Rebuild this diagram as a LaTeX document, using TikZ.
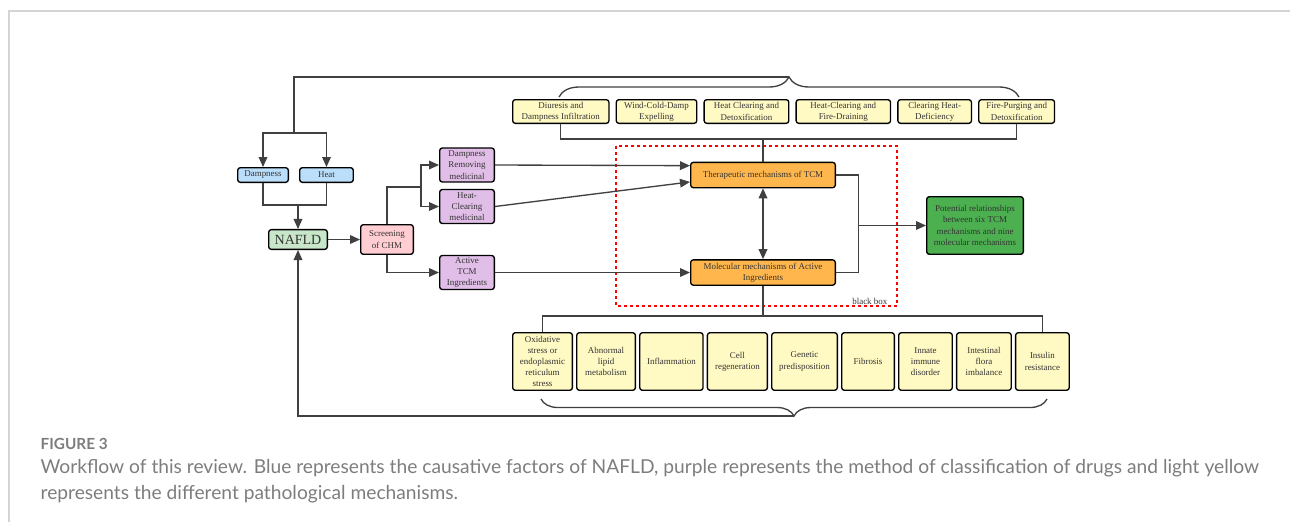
\documentclass[tikz,border=0pt]{standalone}
\usepackage{fontspec}
\setmainfont{Liberation Serif}
\newfontfamily\capfont{Lato}
\usetikzlibrary{calc,positioning,arrows.meta,decorations.pathreplacing}

\definecolor{linegrey}{HTML}{404040}
\definecolor{textgrey}{HTML}{333333}
\definecolor{framegrey}{HTML}{D4D4D4}
\definecolor{capgrey}{HTML}{7D7D7D}
\definecolor{causeblue}{HTML}{BBDEFB}
\definecolor{naflgreen}{HTML}{C8E6C9}
\definecolor{chmpink}{HTML}{FFCDD2}
\definecolor{drugpurple}{HTML}{E1BEE7}
\definecolor{mechyellow}{HTML}{FFF9C4}
\definecolor{tcmorange}{HTML}{FFB74D}
\definecolor{potgreen}{HTML}{4CAF50}

\tikzset{
  box/.style={draw=black, line width=1pt, rounded corners=2pt, inner sep=0.6pt, align=center,
    text=textgrey, font=\fontsize{6.7}{8.4}\selectfont},
  cause/.style={box, fill=causeblue, minimum height=11pt},
  nafld/.style={box, fill=naflgreen, minimum width=44pt, minimum height=14.8pt, font=\fontsize{10.5}{12}\selectfont},
  screen/.style={box, fill=chmpink, minimum width=39.5pt, minimum height=22.2pt},
  drug/.style={box, fill=drugpurple, minimum width=41pt, minimum height=25.5pt},
  tcm/.style={box, fill=tcmorange, minimum width=108.5pt, minimum height=19pt},
  pot/.style={box, fill=potgreen, minimum width=72.5pt, minimum height=43.2pt},
  mech/.style={box, fill=mechyellow, minimum height=17.75pt},
  patho/.style={box, fill=mechyellow, minimum height=43.2pt},
  curly/.style={decorate, decoration={brace, amplitude=#1}},
  blackbox/.style={draw=red, line width=2.2pt, dash pattern=on 2.2pt off 2.3pt},
  frame/.style={draw=framegrey, line width=1.1pt},
  caption/.style={anchor=base west, inner sep=0pt, text=capgrey, font=\capfont\fontsize{14.4}{16}\selectfont}
}

\begin{document}
\begin{tikzpicture}[x=0.75pt,y=-0.75pt,color=linegrey,line width=1pt,>={Triangle[length=7.5pt,width=6.5pt]}]
\useasboundingbox (0,0) rectangle (1290,522);

%Cadre
\draw[frame] (1290,11) -- (9,11) -- (9,522);

%Causes et NAFLD
\node[cause, minimum width=38pt] (damp) at (263,175) {Dampness};
\node[cause, minimum width=40.2pt] (heat) at (326.5,175) {Heat};
\node[nafld] (nafld) at (298,239.5) {NAFLD};
\node[screen] (chm) at (387,239.5) {Screening\\of CHM};

%Medicinaux
\node[drug] (drm) at (467,165) {Dampness\\Removing\\medicinal};
\node[drug] (hcm) at (467,206.5) {Heat-\\Clearing\\medicinal};
\node[drug] (atcm) at (467,272.5) {Active\\TCM\\Ingredients};

%Mecanismes
\node[tcm] (ther) at (763,175) {Therapeutic mechanisms of TCM};
\node[tcm] (mol) at (763,272.5) {Molecular mechanisms of Active\\Ingredients};
\node[pot] (pot) at (975,225.5) {Potential relationships\\between six TCM\\mechanisms and nine\\molecular mechanisms};

%Ligne du haut
\node[mech, minimum width=72.2pt, anchor=west] (t1) at (512,111.5) {Diuresis and\\Dampness Infiltration};
\node[mech, minimum width=60.4pt, right=4.5pt of t1] (t2) {Wind-Cold-Damp\\Expelling};
\node[mech, minimum width=63.5pt, right=4.5pt of t2] (t3) {Heat Clearing and\\Detoxification};
\node[mech, minimum width=70.8pt, right=4.5pt of t3] (t4) {Heat-Clearing and\\Fire-Draining};
\node[mech, minimum width=55.2pt, right=4.5pt of t4] (t5) {Clearing Heat-\\Deficiency};
\node[mech, minimum width=56.8pt, right=4.5pt of t5] (t6) {Fire-Purging and\\Detoxification};

%Ligne du bas
\node[patho, minimum width=44.8pt, anchor=west] (b1) at (512,361.5) {Oxidative\\stress or\\endoplasmic\\reticulum\\stress};
\node[patho, minimum width=44pt, right=2.25pt of b1] (b2) {Abnormal\\lipid\\metabolism};
\node[patho, minimum width=47.5pt, right=2.25pt of b2] (b3) {Inflammation};
\node[patho, minimum width=45pt, right=2.25pt of b3] (b4) {Cell\\regeneration};
\node[patho, minimum width=49.2pt, right=2.25pt of b4] (b5) {Genetic\\predisposition};
\node[patho, minimum width=39.5pt, right=2.25pt of b5] (b6) {Fibrosis};
\node[patho, minimum width=40.2pt, right=2.25pt of b6] (b7) {Innate\\immune\\disorder};
\node[patho, minimum width=41pt, right=2.25pt of b7] (b8) {Intestinal\\flora\\imbalance};
\node[patho, minimum width=40.2pt, right=2.25pt of b8] (b9) {Insulin\\resistance};

%Boite noire
\draw[blackbox] (616,146) rectangle (897,306);
\node[anchor=south east, inner sep=0pt, text=textgrey, font=\fontsize{6.7}{8.4}\selectfont] (bblabel) at (888,305) {black box};

%Points de jonction
\coordinate (split) at (294,133);
\coordinate (join) at (298,205);
\coordinate (fork) at (421,187);
\coordinate (rjoin) at (858.7,225.5);
\coordinate (topbus) at (763,139);
\coordinate (botbus) at (763,316);
\coordinate (tbl) at (559,97);
\coordinate (tbr) at (1019,97);
\coordinate (ttip) at (789,77);
\coordinate (bbl) at (1047,399);
\coordinate (bbr) at (541,399);
\coordinate (btip) at (794,416);

%Accolades
\draw[curly=15pt] (tbl) -- (tbr);
\draw[curly=12.75pt] (bbl) -- (bbr);

%Boucles
\draw (ttip) -| (split);
\draw[->] (split) -| (damp.north);
\draw[->] (split) -| (heat.north);
\draw[->] (btip) -| (nafld.south);

%Traits
\draw (damp.south) |- (join) -| (heat.south);
\draw[->] (join) -- (nafld.north);
\draw[->] (nafld) -- (chm);
\draw (chm.north) |- (fork);
\draw[->] (fork) |- (drm.west);
\draw[->] (fork) |- (hcm.west);
\draw[->] (chm.south) |- (atcm.west);

\draw[->] (drm.east) -- ($(ther.north west)!0.15!(ther.south west)$);
\draw[->] (hcm.east) -- ($(ther.north west)!0.76!(ther.south west)$);
\draw[->] (atcm.east) -- (mol.west);
\draw[<->] (ther) -- (mol);

\draw (ther.east) -| (rjoin) |- (mol.east);
\draw[->] (rjoin) -- (pot.west);

\draw (t1.south) |- (topbus) -| (t6.south);
\draw (ther.north) -- (topbus);
\draw (b1.north) |- (botbus) -| (b9.north);
\draw (mol.south) -- (botbus);

%Legende
\node[caption, font=\capfont\bfseries\fontsize{11.5}{14}\selectfont] (figno) at (40,449) {FIGURE 3};
\node[caption] (cap1) at (40,473) {Workflow of this review. Blue represents the causative factors of NAFLD, purple represents the method of classification of drugs and light yellow};
\node[caption] (cap2) at (40,499) {represents the different pathological mechanisms.};

\end{tikzpicture}
\end{document}
